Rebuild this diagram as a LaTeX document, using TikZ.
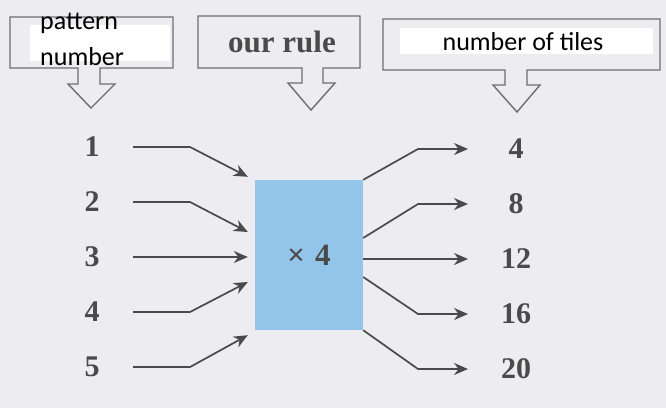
\documentclass[tikz,border=0pt]{standalone}
\usepackage{fontspec}
\setmainfont{Liberation Serif}
\newfontfamily\tagfont{Carlito}
\usepackage{tikz}
\usetikzlibrary{arrows.meta,positioning,calc}
\definecolor{pagebg}{HTML}{EDECF1}
\definecolor{boxblue}{HTML}{93C4EA}
\definecolor{inkgray}{HTML}{4A4A4A}
\definecolor{framegray}{HTML}{6E6E6E}

\begin{document}
\begin{tikzpicture}[
    x=1pt, y=-1pt,
    node distance=55pt,
    num/.style={font=\fontsize{30}{30}\selectfont\bfseries, text=inkgray},
    rulebox/.style={rectangle, fill=boxblue, minimum width=108pt, minimum height=150pt, font=\fontsize{31}{31}\selectfont\bfseries, text=inkgray},
    callout/.style={draw=framegray, line width=1.4pt, line join=miter},
    tag/.style={font=\tagfont\fontsize{26}{36}\selectfont, text=black, inner sep=0pt},
    arrow/.style={-{Stealth[length=14pt, width=12pt]}, draw=inkgray, line width=1.7pt}
]
    \useasboundingbox (0,0) rectangle (666,408);
    \fill[pagebg] (0,0) rectangle (666,408);

    % heading boxes
    \draw[callout] (10,17) -- (173,17) -- (173,68) -- (100,68) -- (100,84) -- (115,84) -- (91,108) -- (68,84) -- (78,84) -- (78,68) -- (10,68) -- cycle;
    \draw[callout] (198,16) -- (360,16) -- (360,68) -- (323,68) -- (323,83) -- (335,83) -- (311,110) -- (288,83) -- (302,83) -- (302,68) -- (198,68) -- cycle;
    \draw[callout] (383,19) -- (660,19) -- (660,70) -- (527,70) -- (527,85) -- (540,85) -- (517,112) -- (493,85) -- (505,85) -- (505,70) -- (383,70) -- cycle;
    \fill[white] (30,25) rectangle (170,61);
    \fill[white] (400,28) rectangle (653,54);

    \node[tag, align=left, anchor=base west] (pat) at (40,65) {pattern\\number};
    \node[font=\fontsize{31}{31}\selectfont\bfseries, text=inkgray, anchor=base] (rulehead) at (282,52) {our rule};
    \node[tag, anchor=base] (tiles) at (523,50) {number of tiles};

    % inputs, rule, outputs
    \node[num] (p1) at (92,147) {1};
    \node[num, below of=p1] (p2) {2};
    \node[num, below of=p2] (p3) {3};
    \node[num, below of=p3] (p4) {4};
    \node[num, below of=p4] (p5) {5};

    \node[rulebox] (rule) at (309,255) {×\hspace{10pt}4};

    \node[num] (t1) at (516,149) {4};
    \node[num, below of=t1] (t2) {8};
    \node[num, below of=t2] (t3) {12};
    \node[num, below of=t3] (t4) {16};
    \node[num, below of=t4] (t5) {20};

    \coordinate (outx) at (468,0);
    \coordinate (in1) at ($(rule.north west)+(-7,-3)$);
    \coordinate (in2) at ($(rule.west)+(-7,-23)$);
    \coordinate (in4) at ($(rule.west)+(-7,27)$);
    \coordinate (in5) at ($(rule.south west)+(-7,5)$);

    \draw[arrow] ([xshift=30pt]p1.east) -- ++(57,0) -- (in1);
    \draw[arrow] ([xshift=30pt]p2.east) -- ++(57,0) -- (in2);
    \draw[arrow] ([xshift=30pt]p3.east) -- ($(p3 -| rule.west)+(-7,0)$);
    \draw[arrow] ([xshift=30pt]p4.east) -- ++(57,0) -- (in4);
    \draw[arrow] ([xshift=30pt]p5.east) -- ++(57,0) -- (in5);

    \draw[arrow] (rule.north east) -- ($(t1 -| outx)+(-50,0)$) -- (t1 -| outx);
    \draw[arrow] ($(rule.east)+(0,-17)$) -- ($(t2 -| outx)+(-50,0)$) -- (t2 -| outx);
    \draw[arrow] (rule.east |- t3) -- (t3 -| outx);
    \draw[arrow] ($(rule.east)+(0,22)$) -- ($(t4 -| outx)+(-50,0)$) -- (t4 -| outx);
    \draw[arrow] (rule.south east) -- ($(t5 -| outx)+(-50,0)$) -- (t5 -| outx);
\end{tikzpicture}
\end{document}
